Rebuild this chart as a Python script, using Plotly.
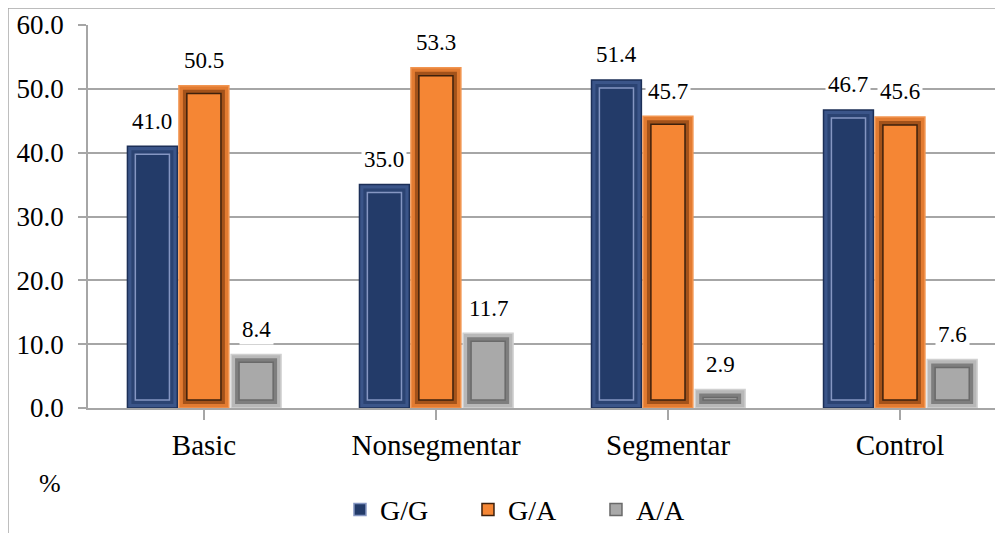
import plotly.graph_objects as go

categories = ["Basic", "Nonsegmentar", "Segmentar", "Control"]
series_names = ["G/G", "G/A", "A/A"]
gg = [41.0, 35.0, 51.4, 46.7]
ga = [50.5, 53.3, 45.7, 45.6]
aa = [8.4, 11.7, 2.9, 7.6]
series_values = [gg, ga, aa]
y_ticks = [0, 10, 20, 30, 40, 50, 60]
y_tick_labels = ["0.0", "10.0", "20.0", "30.0", "40.0", "50.0", "60.0"]

FONT = "Times New Roman, Liberation Serif, Tinos, DejaVu Serif, serif"

# styling
bar_w = 0.215
offsets = [-0.33, -0.108, 0.117]
bev_x = 0.034
bev_y = 1.25
outer_col = ["#3b5589", "#e27b31", "#b8b8b8"]
outer_line = ["#1c2f57", "#f29550", "#d0d0d0"]
mid_col = ["#2b4372", "#a3521a", "#7e7e7e"]
inner_col = ["#233b69", "#f58634", "#a9a9a9"]
inner_line = ["#8596c2", "#3d200c", "#6a6a6a"]

x_idx = list(range(len(categories)))

fig = go.Figure()
for s, (name, vals) in enumerate(zip(series_names, series_values)):
    fig.add_trace(go.Bar(
        x=x_idx, y=vals, width=bar_w, offset=offsets[s],
        marker=dict(color=outer_col[s], line=dict(color=outer_line[s], width=1.5)),
        showlegend=False, hoverinfo="skip", name=name,
    ))
    mid_h = [max(v - bev_y, 0.05) for v in vals]
    fig.add_trace(go.Bar(
        x=x_idx, y=mid_h, base=[bev_y / 2] * len(vals),
        width=bar_w - bev_x, offset=offsets[s] + bev_x / 2,
        marker=dict(color=mid_col[s], line=dict(width=0)),
        showlegend=False, hoverinfo="skip", name=name,
    ))
    inner_h = [max(v - 2 * bev_y, 0.05) for v in vals]
    fig.add_trace(go.Bar(
        x=x_idx, y=inner_h, base=[bev_y] * len(vals),
        width=bar_w - 2 * bev_x, offset=offsets[s] + bev_x,
        marker=dict(color=inner_col[s], line=dict(color=inner_line[s], width=1.5)),
        showlegend=True, name=name,
    ))
    for i, v in enumerate(vals):
        fig.add_annotation(
            x=i + offsets[s] + bar_w / 2, y=v, xref="x", yref="y",
            text=f"{v:.1f}", showarrow=False, yanchor="middle", yshift=25,
            bgcolor="white", borderpad=2,
            font=dict(family=FONT, size=23, color="black"),
        )

fig.add_annotation(x=-0.0412, y=-0.196, xref="paper", yref="paper", text="%",
                   xanchor="center", yanchor="middle",
                   showarrow=False, font=dict(family=FONT, size=26, color="black"))

# outer frame (top and left)
frame_col = "#a6a6a6"
fig.add_shape(type="line", xref="paper", yref="paper", x0=-0.0867, x1=1.0, y0=1.0444, y1=1.0444,
              line=dict(color=frame_col, width=1.5))
fig.add_shape(type="line", xref="paper", yref="paper", x0=-0.0867, x1=-0.0867, y0=1.0444, y1=-0.35,
              line=dict(color=frame_col, width=1.5))

fig.update_layout(
    width=1003, height=533,
    margin=dict(l=80, r=0, t=17, b=133, autoexpand=False),
    barmode="overlay",
    plot_bgcolor="white", paper_bgcolor="white",
    font=dict(family=FONT, color="black"),
    legend=dict(orientation="h", x=0.273, y=-0.266, xanchor="left", yanchor="middle",
                font=dict(family=FONT, size=28), entrywidth=83, entrywidthmode="pixels",
                traceorder="normal"),
    xaxis=dict(
        range=[-0.5, 3.478], tickmode="array", tickvals=x_idx, ticktext=categories,
        tickson="boundaries", ticks="outside", ticklen=10, tickcolor=frame_col, tickwidth=1.5,
        showline=True, linecolor=frame_col, linewidth=1.5, showgrid=False, zeroline=False,
        tickfont=dict(family=FONT, size=29), ticklabelstandoff=0, automargin=False,
    ),
    yaxis=dict(
        range=[0, 60], tickmode="array", tickvals=y_ticks, ticktext=y_tick_labels,
        ticks="outside", ticklen=8, tickcolor=frame_col, tickwidth=1.5,
        showline=True, linecolor=frame_col, linewidth=1.5,
        showgrid=True, gridcolor=frame_col, gridwidth=1.5, zeroline=False,
        tickfont=dict(family=FONT, size=27), ticklabelstandoff=9, automargin=False,
    ),
)

fig.write_html("out.html")
